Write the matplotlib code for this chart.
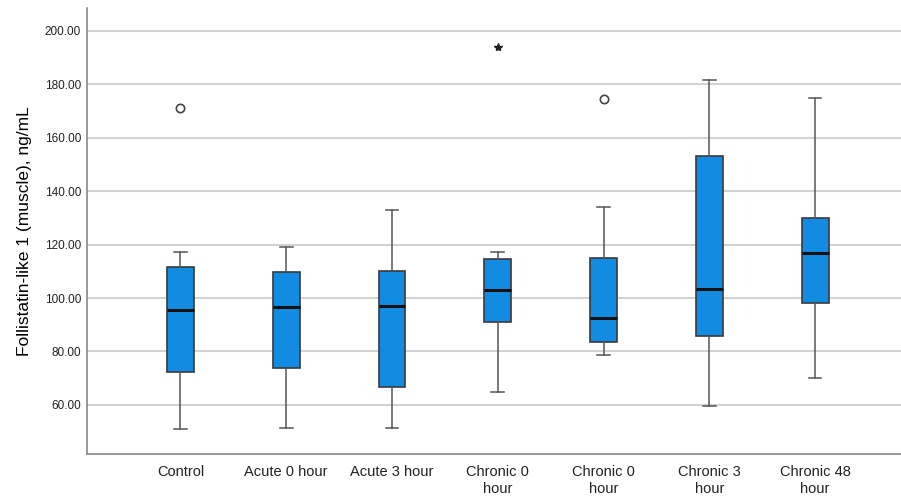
import matplotlib
matplotlib.use("Agg")
import matplotlib.pyplot as plt

plt.rcParams['font.family'] = ['Liberation Sans', 'DejaVu Sans']

# Summary statistics per group (ng/mL)
groups = ["Control", "Acute 0 hour", "Acute 3 hour", "Chronic 0\nhour",
          "Chronic 0\nhour", "Chronic 3\nhour", "Chronic 48\nhour"]
whisker_low = [50.9, 51.3, 51.5, 64.9, 78.8, 59.4, 70.0]
q1 = [72.2, 73.8, 66.5, 91.2, 83.6, 85.8, 98.0]
median = [95.4, 96.6, 97.1, 103.0, 92.7, 103.3, 117.0]
q3 = [111.5, 109.7, 110.3, 114.6, 115.0, 153.0, 129.9]
whisker_high = [117.3, 119.1, 132.9, 117.3, 134.1, 181.6, 175.0]
# mild outliers (circles) and extreme outliers (stars)
outliers_mild = [[171.0], [], [], [], [174.7], [], []]
outliers_extreme = [[], [], [], [193.9], [], [], []]

yticks = [60, 80, 100, 120, 140, 160, 180, 200]

fig = plt.figure(figsize=(9.01, 4.99), dpi=100)
ax = fig.add_axes([0.0962, 0.0902, 0.9038, 0.8938])

stats = []
for i in range(len(groups)):
    stats.append(dict(med=median[i], q1=q1[i], q3=q3[i],
                      whislo=whisker_low[i], whishi=whisker_high[i],
                      fliers=[]))

positions = list(range(1, len(groups) + 1))
ax.bxp(stats, positions=positions, widths=0.255, capwidths=0.12,
       patch_artist=True, showfliers=False,
       boxprops=dict(facecolor='#128ce2', edgecolor='#3a3a3a', linewidth=1.2),
       medianprops=dict(color='#111111', linewidth=2.2),
       whiskerprops=dict(color='#555555', linewidth=1.1),
       capprops=dict(color='#555555', linewidth=1.1),
       zorder=3)

for pos, vals in zip(positions, outliers_mild):
    for v in vals:
        ax.plot(pos, v, marker='o', markersize=6, markerfacecolor='white',
                markeredgecolor='#444444', markeredgewidth=1.2, zorder=4)
for pos, vals in zip(positions, outliers_extreme):
    for v in vals:
        ax.plot(pos, v, marker='*', markersize=6, color='#222222', zorder=4)

ax.set_xlim(0.113, 7.813)
ax.set_ylim(41.6, 208.6)
ax.set_yticks(yticks)
ax.set_yticklabels([f"{t:.2f}" for t in yticks], fontsize=8.5, color='#222222')
ax.set_xticks(positions)
ax.set_xticklabels(groups, fontsize=10.5, color='#222222', linespacing=1.25)
ax.tick_params(axis='x', length=0, pad=8)
ax.tick_params(axis='y', length=0, pad=4)

ax.grid(axis='y', color='#d2d2d2', linewidth=1.5, zorder=0)
ax.set_axisbelow(True)

for side in ['top', 'right']:
    ax.spines[side].set_visible(False)
for side in ['left', 'bottom']:
    ax.spines[side].set_color('#888888')
    ax.spines[side].set_linewidth(1.2)

ax.set_ylabel("Follistatin-like 1 (muscle), ng/mL", fontsize=12.5, color='#000000',
              labelpad=9)

fig.savefig("out.png", dpi=100)
